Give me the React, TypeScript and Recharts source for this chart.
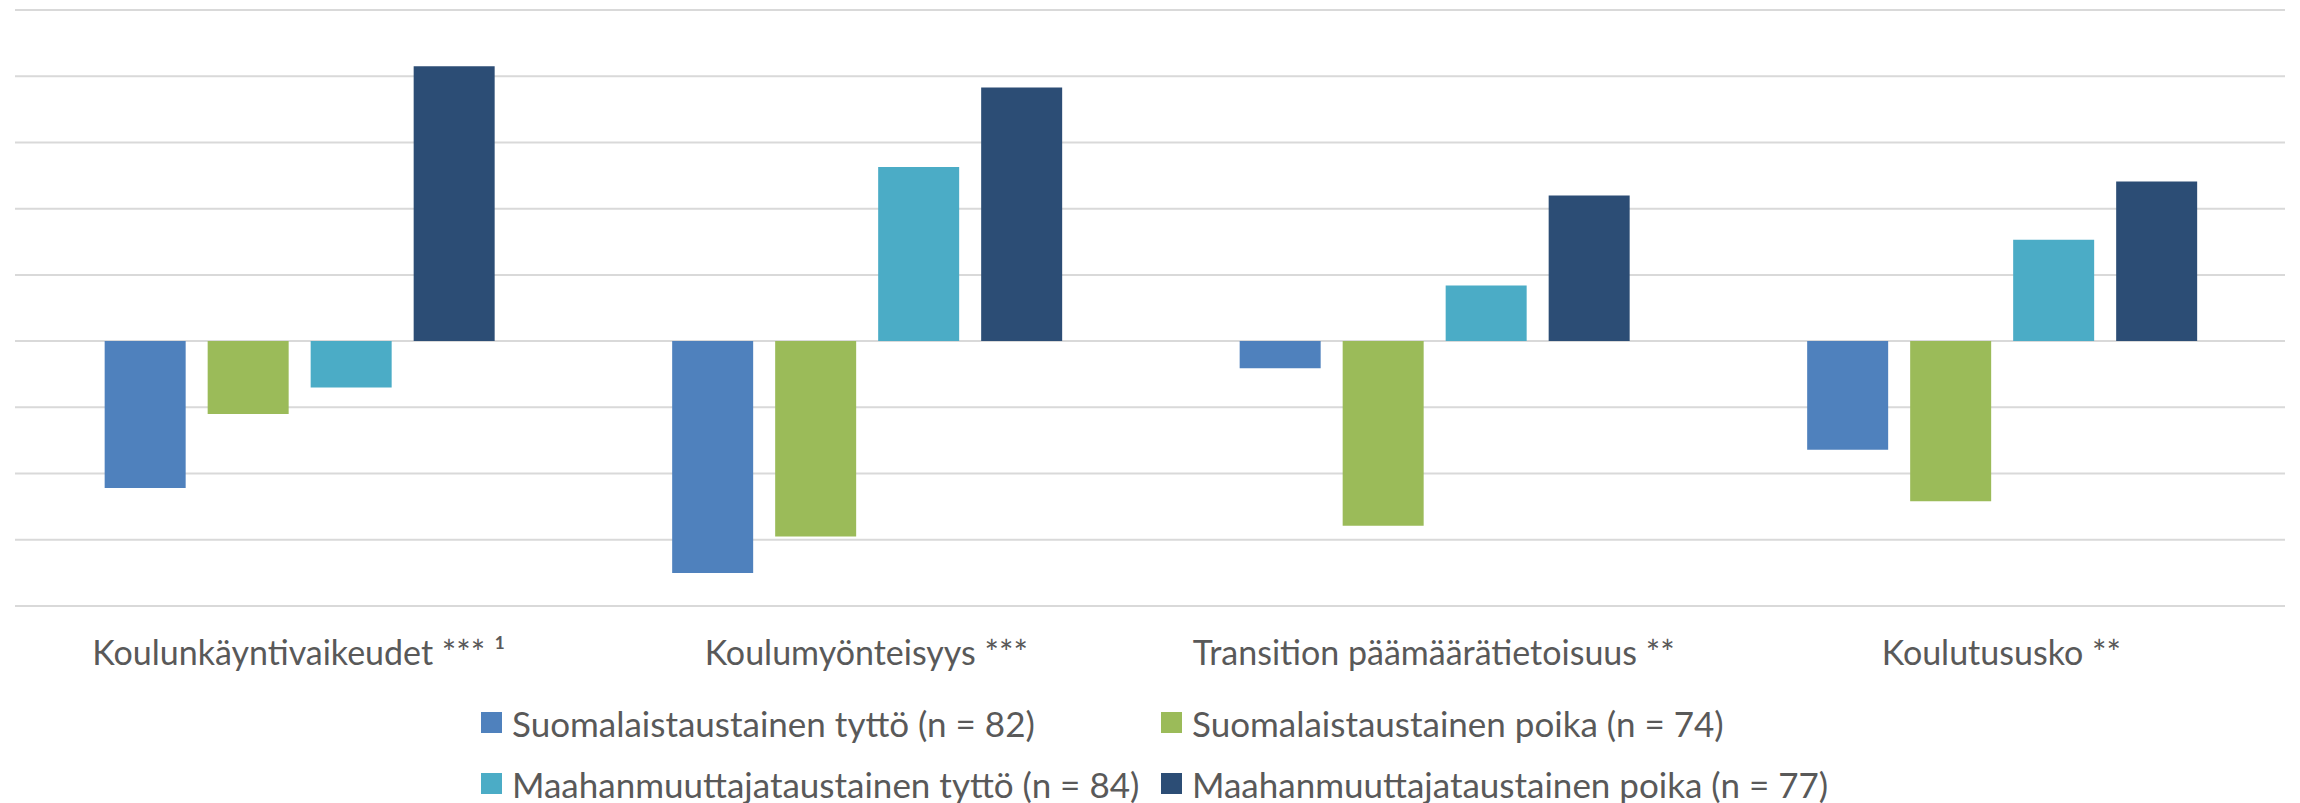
import { BarChart, Bar, XAxis, YAxis, CartesianGrid, Legend } from 'recharts';

const categories = [
  'Koulunkäyntivaikeudet *** ¹',
  'Koulumyönteisyys ***',
  'Transition päämäärätietoisuus **',
  'Koulutususko **',
];

const finnishGirl = [-0.222, -0.35, -0.041, -0.164];
const finnishBoy = [-0.11, -0.295, -0.279, -0.242];
const immigrantGirl = [-0.07, 0.263, 0.084, 0.153];
const immigrantBoy = [0.415, 0.383, 0.22, 0.241];

const yTicks = [-0.4, -0.3, -0.2, -0.1, 0, 0.1, 0.2, 0.3, 0.4, 0.5];

const series = [
  { key: 'fg', name: 'Suomalaistaustainen tyttö (n = 82)', color: '#4F81BD' },
  { key: 'fb', name: 'Suomalaistaustainen poika (n = 74)', color: '#9BBB59' },
  { key: 'ig', name: 'Maahanmuuttajataustainen tyttö (n = 84)', color: '#4BACC6' },
  { key: 'ib', name: 'Maahanmuuttajataustainen poika (n = 77)', color: '#2C4D75' },
];

const data = categories.map((name, i) => ({
  name,
  fg: finnishGirl[i],
  fb: finnishBoy[i],
  ig: immigrantGirl[i],
  ib: immigrantBoy[i],
}));

const FONT = 'Lato, "Open Sans", sans-serif';
const TEXT = '#595959';

function GridLegend({ payload }: any) {
  // keep the series order (recharts sorts legend items by name otherwise)
  const items = series
    .map((s) => (payload || []).find((p: any) => p.value === s.name))
    .filter(Boolean);
  return (
    <div style={{ display: 'grid', gridTemplateColumns: '680px 680px', fontFamily: FONT, fontSize: 35, color: TEXT }}>
      {items.map((p: any) => (
        <div key={p.value} style={{ display: 'flex', alignItems: 'center', height: 61, whiteSpace: 'nowrap' }}>
          <span style={{ display: 'inline-block', width: 21, height: 21, background: p.color, marginRight: 10 }} />
          <span>{p.value}</span>
        </div>
      ))}
    </div>
  );
}

export default function App() {
  return (
    <div style={{ position: 'absolute', left: 0, top: 0, width: 2300, height: 803, background: '#fff' }}>
      <BarChart
        width={2300}
        height={803}
        data={data}
        margin={{ top: 10, right: 15, left: 15, bottom: 137 }}
        barCategoryGap="15.8%"
        barGap={22}
      >
        <CartesianGrid vertical={false} stroke="#D9D9D9" strokeWidth={2} />
        <XAxis
          dataKey="name"
          height={60}
          axisLine={false}
          tickLine={false}
          tickSize={0}
          tickMargin={35}
          interval={0}
          tick={{ fill: TEXT, fontSize: 34, fontFamily: FONT }}
        />
        <YAxis hide domain={[-0.4, 0.5]} ticks={yTicks} interval={0} />
        <Legend
          layout="vertical"
          align="center"
          verticalAlign="middle"
          content={<GridLegend />}
          wrapperStyle={{ left: 481, top: 692, width: 1400 }}
        />
        {series.map((s) => (
          <Bar key={s.key} dataKey={s.key} name={s.name} fill={s.color} isAnimationActive={false} />
        ))}
      </BarChart>
    </div>
  );
}
